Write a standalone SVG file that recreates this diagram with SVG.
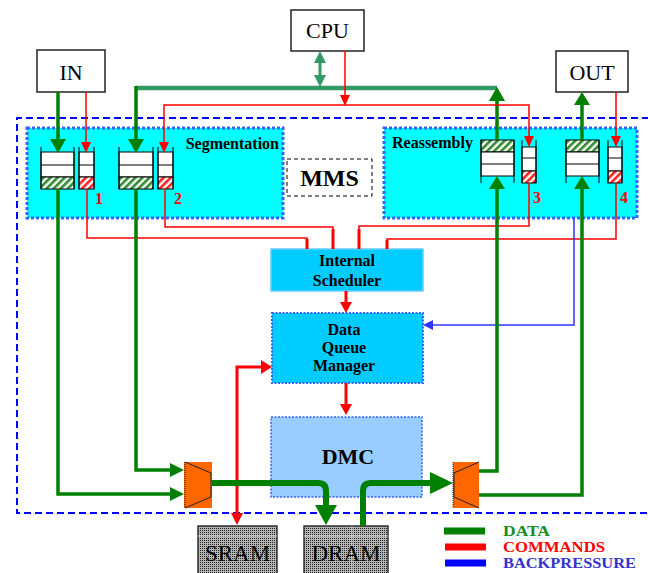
<svg xmlns="http://www.w3.org/2000/svg" width="648" height="573" viewBox="0 0 648 573">
<style>
text{font-family:"Liberation Serif","Times New Roman",serif;}
.b{font-weight:bold;font-size:16px;}
.lg{font-weight:bold;font-size:14px;}
.box{fill:#fff;stroke:#222;stroke-width:1.5;}
.big{font-size:22px;text-anchor:middle;}
.g{fill:none;stroke:#008000;stroke-width:3.5;}
.gt{fill:none;stroke:#008000;stroke-width:6;}
.r{fill:none;stroke:#ff0000;stroke-width:1.5;}
.rt{fill:none;stroke:#ff0000;stroke-width:3;}
.bl{fill:none;stroke:#3333ff;stroke-width:1.5;}
.ga{fill:#008000;}
.ra{fill:#ff0000;}
.q{fill:#fff;stroke:#000;stroke-width:1;}
.qs{fill:none;stroke:#000;stroke-width:1;}
.hg{fill:url(#hg);stroke:#000;stroke-width:1;}
.hr{fill:url(#hr);stroke:#000;stroke-width:1;}
.mux{fill:#ff6600;}
.muxl{fill:none;stroke:#222;stroke-width:1;}
.mem{fill:url(#grain);stroke:#333;stroke-width:1.5;}
.num{fill:#ff0000;font-weight:bold;font-size:16px;}
</style>
<defs>
<pattern id="hg" width="5" height="5" patternUnits="userSpaceOnUse" patternTransform="rotate(45)">
<rect width="5" height="5" fill="#fff"/><rect width="2.6" height="5" fill="#2e8b2e"/>
</pattern>
<pattern id="hr" width="5" height="5" patternUnits="userSpaceOnUse" patternTransform="rotate(45)">
<rect width="5" height="5" fill="#fff"/><rect width="2.6" height="5" fill="#ff2020"/>
</pattern>
<pattern id="grain" width="2" height="2" patternUnits="userSpaceOnUse">
<rect width="2" height="2" fill="#b4b4b4"/><rect width="1" height="1" fill="#222"/>
</pattern>
</defs>

<!-- outer MMS boundary -->
<path id="mms-boundary" d="M660,118 H17 V513 H660" fill="none" stroke="#0000ff" stroke-width="2" stroke-dasharray="7,4"/>

<g id="segmentation">
<rect x="27" y="128" width="256" height="90" fill="#00ffff" stroke="#3366ff" stroke-width="3" stroke-dasharray="3,2"/>
<text class="b" x="279" y="148.5" text-anchor="end">Segmentation</text>
</g>
<g id="reassembly">
<rect x="384" y="128" width="253" height="90" fill="#00ffff" stroke="#3366ff" stroke-width="3" stroke-dasharray="3,2"/>
<text class="b" x="392" y="147.5">Reassembly</text>
</g>
<g id="mms-label">
<rect x="287" y="159" width="85" height="37" fill="#fff" stroke="#000" stroke-width="1" stroke-dasharray="4,3"/>
<text x="329.5" y="186" font-size="24" font-weight="bold" text-anchor="middle">MMS</text>
</g>

<g id="cpu"><rect class="box" x="291" y="10" width="73" height="41"/><text class="big" x="327.5" y="38">CPU</text></g>
<g id="in"><rect class="box" x="37" y="50" width="68" height="42"/><text class="big" x="71" y="80">IN</text></g>
<g id="out"><rect class="box" x="556" y="51" width="72" height="41"/><text class="big" x="592" y="80">OUT</text></g>

<g id="scheduler">
<rect x="271" y="249" width="152" height="42" fill="#00ccff" stroke="#66ccff" stroke-width="1.5"/>
<text class="b" x="347" y="266" text-anchor="middle">Internal</text>
<text class="b" x="347" y="286" text-anchor="middle">Scheduler</text>
</g>
<g id="dqm">
<rect x="272" y="313" width="151" height="70" fill="#00ccff" stroke="#3366ff" stroke-width="2" stroke-dasharray="2,1.5"/>
<text class="b" x="344" y="335" text-anchor="middle">Data</text>
<text class="b" x="344" y="353" text-anchor="middle">Queue</text>
<text class="b" x="344" y="371" text-anchor="middle">Manager</text>
</g>
<g id="dmc">
<rect x="271" y="417" width="151" height="80" fill="#99ccff" stroke="#3366ff" stroke-width="1.5" stroke-dasharray="2,1.5"/>
<text x="348" y="464" font-size="22" font-weight="bold" text-anchor="middle">DMC</text>
</g>

<!-- queues in segmentation -->
<g id="queue-seg-data-1">
<rect class="q" x="41" y="152" width="33" height="25"/><line class="qs" x1="41" y1="165" x2="74" y2="165"/>
<rect class="hg" x="41" y="177" width="33" height="12"/>
<path class="qs" d="M41,147 V189 M74,147 V189"/>
</g>
<g id="queue-seg-cmd-1">
<rect class="q" x="79" y="152" width="15" height="25"/><line class="qs" x1="79" y1="165" x2="94" y2="165"/>
<rect class="hr" x="79" y="177" width="15" height="12"/>
<path class="qs" d="M79,147 V189 M94,147 V189"/>
<text class="num" x="95" y="203.5">1</text>
</g>
<g id="queue-seg-data-2">
<rect class="q" x="119" y="152" width="34" height="25"/><line class="qs" x1="119" y1="165" x2="153" y2="165"/>
<rect class="hg" x="119" y="177" width="34" height="12"/>
<path class="qs" d="M119,147 V189 M153,147 V189"/>
</g>
<g id="queue-seg-cmd-2">
<rect class="q" x="158" y="152" width="15" height="25"/><line class="qs" x1="158" y1="165" x2="173" y2="165"/>
<rect class="hr" x="158" y="177" width="15" height="12"/>
<path class="qs" d="M158,147 V189 M173,147 V189"/>
<text class="num" x="174" y="203.5">2</text>
</g>

<!-- queues in reassembly -->
<g id="queue-rea-data-3">
<rect class="hg" x="481" y="140" width="33" height="12"/>
<rect class="q" x="481" y="152" width="33" height="24"/><line class="qs" x1="481" y1="164" x2="514" y2="164"/>
<path class="qs" d="M481,140 V183 M514,140 V183"/>
</g>
<g id="queue-rea-cmd-3">
<rect class="q" x="522" y="147" width="14" height="24"/><line class="qs" x1="522" y1="158" x2="536" y2="158"/>
<rect class="hr" x="522" y="171" width="14" height="12"/>
<path class="qs" d="M522,140 V183 M536,140 V183"/>
<text class="num" x="533" y="202.5">3</text>
</g>
<g id="queue-rea-data-4">
<rect class="hg" x="566" y="140" width="33" height="12"/>
<rect class="q" x="566" y="152" width="33" height="24"/><line class="qs" x1="566" y1="164" x2="599" y2="164"/>
<path class="qs" d="M566,140 V183 M599,140 V183"/>
</g>
<g id="queue-rea-cmd-4">
<rect class="q" x="608" y="147" width="14" height="24"/><line class="qs" x1="608" y1="158" x2="622" y2="158"/>
<rect class="hr" x="608" y="171" width="14" height="12"/>
<path class="qs" d="M608,140 V183 M622,140 V183"/>
<text class="num" x="620" y="202.5">4</text>
</g>

<!-- multiplexers -->
<g id="mux-in">
<rect class="mux" x="184" y="462" width="28" height="46"/>
<path class="muxl" d="M185,462 L211,473 V497 L185,508"/>
<line x1="185" y1="462" x2="185" y2="508" stroke="#222" stroke-width="1" stroke-dasharray="1,1"/>
</g>
<g id="mux-out">
<rect class="mux" x="453" y="462" width="26" height="46"/>
<path class="muxl" d="M479,462 L454,473 V497 L479,508"/>
<line x1="453" y1="462" x2="453" y2="508" stroke="#222" stroke-width="1" stroke-dasharray="1,1"/>
</g>

<g id="sram">
<rect class="mem" x="198" y="526" width="79" height="52"/>
<line x1="198" y1="536" x2="277" y2="536" stroke="#ddd" stroke-width="1"/>
<text x="237.5" y="561" font-size="23" text-anchor="middle">SRAM</text>
</g>
<g id="dram">
<rect class="mem" x="304" y="526" width="84" height="52"/>
<line x1="304" y1="536" x2="388" y2="536" stroke="#ddd" stroke-width="1"/>
<line x1="352" y1="526" x2="352" y2="573" stroke="#ddd" stroke-width="1" opacity="0.6"/>
<text x="346" y="561" font-size="23" text-anchor="middle">DRAM</text>
</g>

<g id="connectors">
<!-- CPU bus -->
<path d="M136,88 H497" fill="none" stroke="#339966" stroke-width="4.5"/>
<path d="M320,61 V77" fill="none" stroke="#339966" stroke-width="3"/>
<polygon points="320,51 314,63 326,63" fill="#339966"/>
<polygon points="320,87 314,75 326,75" fill="#339966"/>
<path class="g" d="M136,86 V140"/>
<polygon class="ga" points="128,139 144,139 136,153"/>
<path class="g" d="M497,140 V100"/>
<polygon class="ga" points="489,101 505,101 497,87"/>
<!-- CPU commands -->
<path class="r" d="M345,51 V96"/>
<polygon class="ra" points="340,95 350,95 345,106"/>
<path class="r" d="M164,143 V105 H529 V137"/>
<polygon class="ra" points="159,142 169,142 164,153"/>
<polygon class="ra" points="524,136 534,136 529,147"/>
<!-- IN / OUT -->
<path class="g" d="M58,92 V140"/>
<polygon class="ga" points="50,139 66,139 58,153"/>
<path class="r" d="M86,92 V143"/>
<polygon class="ra" points="81,142 91,142 86,153"/>
<path class="g" d="M582,140 V104"/>
<polygon class="ga" points="574,105 590,105 582,92"/>
<path class="r" d="M616,92 V137"/>
<polygon class="ra" points="611,136 621,136 616,147"/>
<!-- commands to scheduler -->
<path class="r" d="M87,189 V238 H307 V240"/>
<path class="rt" d="M307,239 V249"/>
<path class="r" d="M165,189 V227 H333 V230"/>
<path class="rt" d="M333,229 V249"/>
<path class="r" d="M529,183 V226 H359 V230"/>
<path class="rt" d="M359,229 V249"/>
<path class="r" d="M616,183 V239 H387 V241"/>
<path class="rt" d="M387,240 V249"/>
<!-- scheduler -> DQM -> DMC -->
<path class="rt" d="M346,291 V303"/>
<polygon class="ra" points="340,302 352,302 346,313"/>
<path class="rt" d="M346,383 V405"/>
<polygon class="ra" points="340,404 352,404 346,415"/>
<!-- SRAM <-> DQM -->
<path class="rt" d="M237,514 V367 H262"/>
<polygon class="ra" points="261,360 261,374 272,367"/>
<polygon class="ra" points="231,513 243,513 237,525"/>
<!-- backpressure -->
<path class="bl" d="M574,218 V325 H432"/>
<polygon points="433,320 433,330 423,325" fill="#3333ff"/>
<!-- data segmentation -> mux -->
<path class="g" d="M136,189 V470 H172"/>
<polygon class="ga" points="170,463 170,477 184,470"/>
<path class="g" d="M58,189 V494 H172"/>
<polygon class="ga" points="170,487 170,501 184,494"/>
<!-- mux -> DRAM -->
<path class="gt" d="M212,483 H318 Q326,483 326,491 V506"/>
<polygon class="ga" points="315,505 337,505 326,525"/>
<!-- DRAM -> mux -->
<path class="gt" d="M363,526 V491 Q363,483 371,483 H432"/>
<polygon class="ga" points="430,472 430,494 453,483"/>
<!-- mux -> reassembly -->
<path class="g" d="M479,471 H497 V188"/>
<polygon class="ga" points="489,189 505,189 497,176"/>
<path class="g" d="M479,495 H582 V188"/>
<polygon class="ga" points="574,189 590,189 582,176"/>
</g>

<g id="legend">
<line x1="444" y1="531" x2="485" y2="531" stroke="#008000" stroke-width="7"/>
<line x1="445" y1="547" x2="486" y2="547" stroke="#ff0000" stroke-width="7"/>
<line x1="445" y1="563" x2="486" y2="563" stroke="#0000ff" stroke-width="7"/>
<text class="lg" x="503" y="536" fill="#1a8c1a" textLength="47" lengthAdjust="spacingAndGlyphs">DATA</text>
<text class="lg" x="503" y="552" fill="#ff0000" textLength="102" lengthAdjust="spacingAndGlyphs">COMMANDS</text>
<text class="lg" x="503" y="568" fill="#3333cc" textLength="133" lengthAdjust="spacingAndGlyphs">BACKPRESSURE</text>
</g>
</svg>
